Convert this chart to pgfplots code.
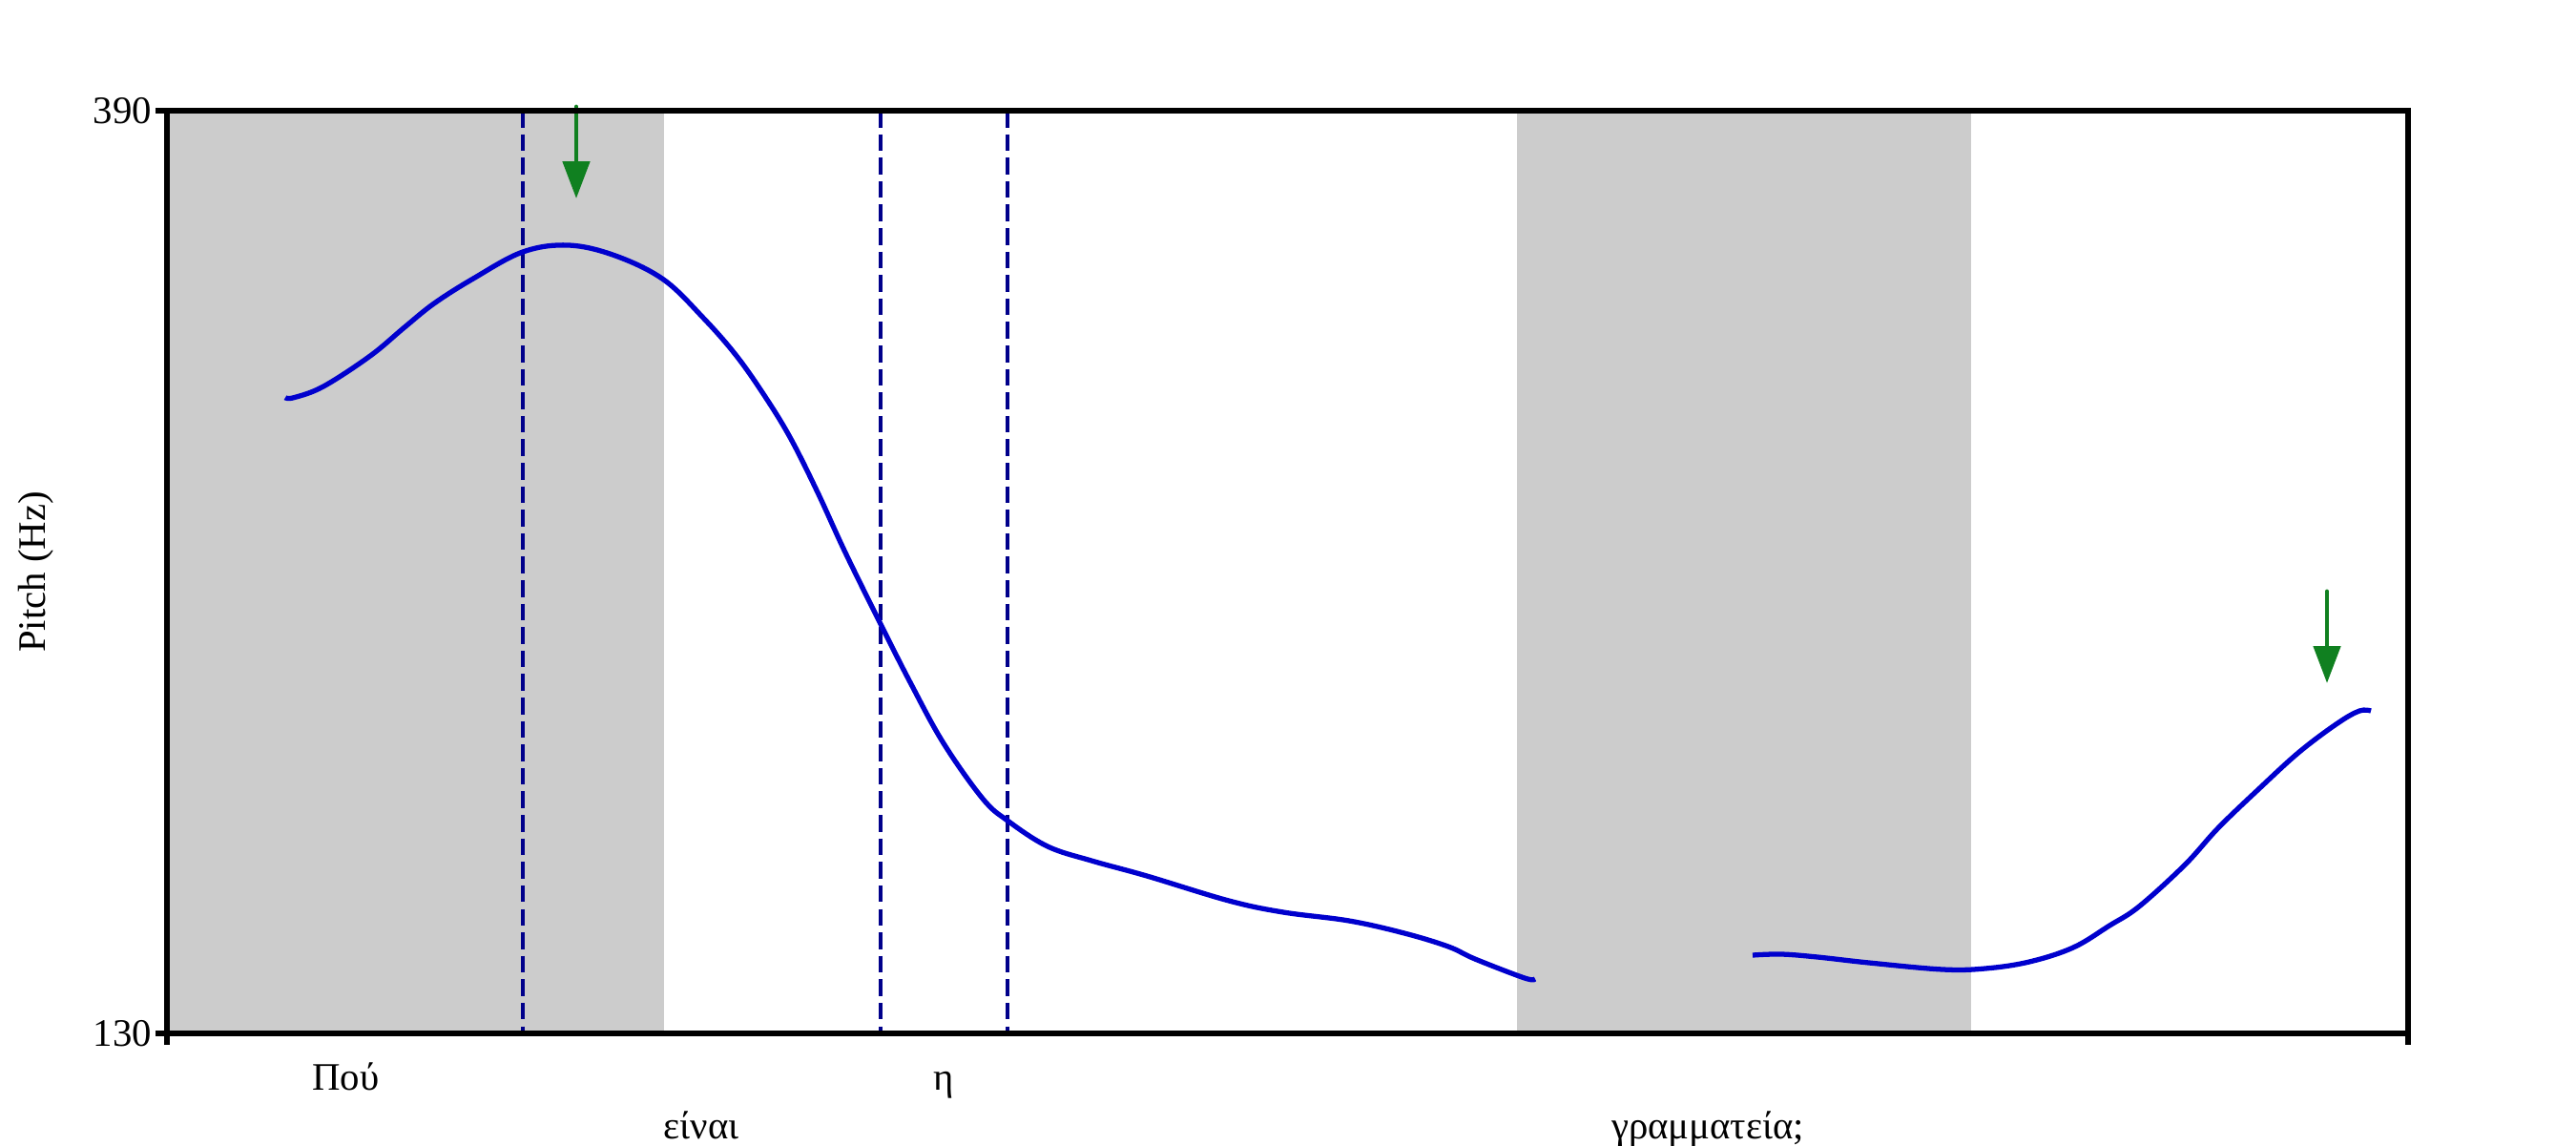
\documentclass[border=0pt]{standalone}
\usepackage{pgfplots}
\pgfplotsset{compat=1.18}
\usepackage{fontspec}
\setmainfont{Liberation Serif}
\usetikzlibrary{arrows.meta}
\definecolor{curveblue}{RGB}{0,0,205}
\definecolor{dashnavy}{RGB}{0,0,139}
\definecolor{arrowgreen}{RGB}{16,128,32}
\definecolor{shade}{RGB}{204,204,204}
\begin{document}
\begin{tikzpicture}[font=\fontsize{11.6}{13.9}\selectfont]
\path[use as bounding box] (-1.75cm,-1.17cm) rectangle (25.25cm,10.83cm);
\begin{axis}[
  at={(0,0)}, anchor=south west,
  scale only axis, width=23.49cm, height=9.67cm,
  xmin=0, xmax=2.349, ymin=130, ymax=390,
  clip=false, axis on top,
  axis line style={line width=1.6pt, black},
  xtick={0,2.349}, xticklabels={},
  ytick={130,390},
  ytick pos=left, xtick pos=bottom,
  tick align=outside,
  major tick length=0.12cm,
  tick style={line width=1.6pt, black},
  /pgf/number format/assume math mode=true,
  yticklabel style={inner sep=1pt},
  ylabel={Pitch (Hz)},
  ylabel style={at={(axis description cs:-0.0541,0.5)}, anchor=base},
]
% shaded intervals
\addplot[fill=shade, draw=none] coordinates {(0,130) (0.5205,130) (0.5205,390) (0,390)} -- cycle;
\addplot[fill=shade, draw=none] coordinates {(1.4145,130) (1.891,130) (1.891,390) (1.4145,390)} -- cycle;
% dashed boundaries
\addplot[dashnavy, line width=1.1pt, dash pattern=on 5pt off 2pt] coordinates {(0.373,390) (0.373,130)};
\addplot[dashnavy, line width=1.1pt, dash pattern=on 5pt off 2pt] coordinates {(0.748,390) (0.748,130)};
\addplot[dashnavy, line width=1.1pt, dash pattern=on 5pt off 2pt] coordinates {(0.881,390) (0.881,130)};
% pitch contour, segment 1
\addplot[curveblue, line width=1.5pt, smooth, tension=0.6] coordinates {
(0.124,309.15) (0.133,309.15) (0.164,312.30) (0.213,320.90) (0.249,328.97)
(0.280,335.69) (0.321,342.68) (0.373,350.21) (0.421,352.09) (0.470,349.13)
(0.5205,342.41) (0.562,331.66) (0.597,320.90) (0.628,309.0) (0.654,297.5)
(0.682,282.45) (0.711,265.5) (0.748,245.35) (0.780,228.41) (0.814,211.74)
(0.855,196.15) (0.881,189.96) (0.923,182.70) (0.969,178.67) (1.027,174.37)
(1.113,167.38) (1.170,164.15) (1.239,161.73) (1.297,158.23) (1.343,154.47)
(1.371,150.97) (1.423,145.60) (1.434,145.33)};
% pitch contour, segment 2
\addplot[curveblue, line width=1.5pt, smooth, tension=0.6] coordinates {
(1.662,152.05) (1.692,152.32) (1.730,151.51) (1.784,149.90) (1.861,148.02)
(1.906,148.29) (1.952,150.17) (1.998,154.20) (2.036,160.38) (2.067,165.76)
(2.115,177.5) (2.150,187.9) (2.193,199.0) (2.235,209.32) (2.275,217.39)
(2.298,220.88) (2.310,220.88)};
% arrows
\addplot[arrowgreen, line width=1.4pt, line cap=round, -{Triangle[length=0.39cm,width=0.28cm]}] coordinates {(0.429,391.08) (0.429,365.26)};
\addplot[arrowgreen, line width=1.4pt, line cap=round, -{Triangle[length=0.39cm,width=0.28cm]}] coordinates {(2.264,254.49) (2.264,228.68)};
% word labels
\node[anchor=base, yshift=-0.59cm] at (axis cs:0.1875,130) {Πού};
\node[anchor=base, yshift=-1.10cm] at (axis cs:0.560,130) {είναι};
\node[anchor=base, yshift=-0.59cm] at (axis cs:0.814,130) {η};
\node[anchor=base, yshift=-1.10cm] at (axis cs:1.615,130) {γραμματεία;};
\end{axis}
\end{tikzpicture}
\end{document}
